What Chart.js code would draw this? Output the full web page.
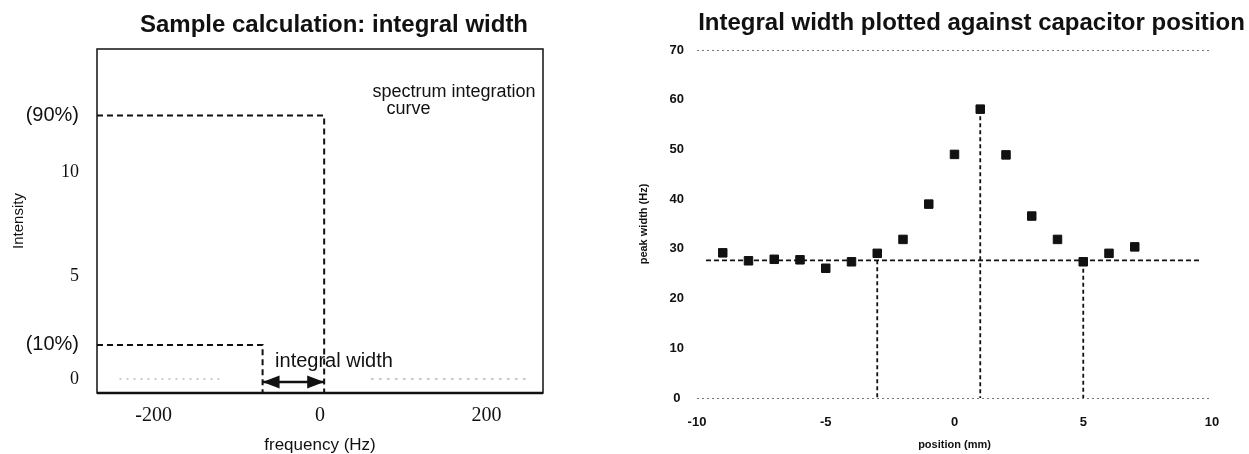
<!DOCTYPE html>
<html>
<head>
<meta charset="utf-8">
<script src="https://cdn.jsdelivr.net/npm/chart.js@4.4.1/dist/chart.umd.min.js"></script>
<style>
  html, body { margin: 0; padding: 0; background: #fff; overflow: hidden; width: 1249px; height: 454px; }
  .panel { position: absolute; top: 0; height: 454px; }
  #leftPanel  { left: 0;     width: 668px; }
  #rightPanel { left: 600px; width: 743px; }
</style>
</head>
<body>
<div class="panel" id="leftPanel"><canvas id="leftChart"></canvas></div>
<div class="panel" id="rightPanel"><canvas id="rightChart"></canvas></div>
<script>
/* ---- left panel: sample calculation ---- */
const freqTicks       = [-200, 0, 200];
const intensityTicks  = [0, 1.65, 5, 10, 12.77];
const intensityLabels = ['0', '(10%)', '5', '10', '(90%)'];
const freqRange       = [-268, 268];
const intensityRange  = [-0.68, 16];
const level10 = 1.65, level90 = 12.77;      // intensity levels
const freq10  = -69,  freq90  = 5;          // where the curve crosses them
const baselineLeftX  = [-241, -117];
const baselineRightX = [61, 253];
const arrowY = -0.15;
const notes = [
  { text: 'spectrum integration', x: 63,  y: 13.67, size: 18 },
  { text: 'curve',                x: 80,  y: 12.85, size: 18 },
  { text: 'integral width',       x: -54, y: 0.59,  size: 20 }
];

/* ---- right panel: width vs position ---- */
const positions  = [-9, -8, -7, -6, -5, -4, -3, -2, -1, 0, 1, 2, 3, 4, 5, 6, 7];
const peakWidths = [29.2, 27.6, 27.9, 27.8, 26.1, 27.4, 29.1, 31.9, 39.0, 49.0, 58.1, 48.9, 36.6, 31.9, 27.4, 29.1, 30.4];
const positionTicks = [-10, -5, 0, 5, 10];
const widthTicks    = [0, 10, 20, 30, 40, 50, 60, 70];
const baseWidth     = 27.7;
const baseSpan      = [-9.65, 9.5];
const cutoffX       = [-3, 1, 5];
const cutoffY       = [29.1, 58.1, 27.4];

const SANS  = '"Liberation Sans", Arial, Helvetica, sans-serif';
const SERIF = '"Liberation Serif", "Times New Roman", serif';

function pts(xs, ys) { return xs.map((x, i) => ({ x, y: ys[i] })); }

function dashed(data, extra) {
    return Object.assign({
        data, borderColor: '#111', borderWidth: 2, borderDash: [6, 4],
        pointRadius: 0, fill: false, tension: 0
    }, extra || {});
}

// empty right-hand axis that only reserves room, so the title centres like the original
function spacer(w) {
    return {
        type: 'linear', position: 'right', display: true,
        grid: { display: false }, border: { display: false }, ticks: { display: false },
        afterFit: s => { s.width = w; }
    };
}

/* frame, notes and arrow heads on the left panel */
const leftDecor = {
    id: 'leftDecor',
    afterDatasetsDraw(chart) {
        const { ctx, chartArea: a, scales: { x, y } } = chart;
        ctx.save();
        ctx.strokeStyle = '#111';
        ctx.lineWidth = 1.5;
        ctx.strokeRect(a.left, a.top, a.width, a.height);
        ctx.lineWidth = 2.5;
        ctx.beginPath(); ctx.moveTo(a.left, a.bottom); ctx.lineTo(a.right, a.bottom); ctx.stroke();

        ctx.fillStyle = '#111';
        ctx.textBaseline = 'alphabetic';
        notes.forEach(n => {
            ctx.font = n.size + 'px ' + SANS;
            ctx.fillText(n.text, x.getPixelForValue(n.x), y.getPixelForValue(n.y));
        });

        const meta = chart.getDatasetMeta(chart.data.datasets.length - 1);
        const p0 = meta.data[0], p1 = meta.data[meta.data.length - 1];
        [[p0, 1], [p1, -1]].forEach(([p, dir]) => {
            ctx.beginPath();
            ctx.moveTo(p.x, p.y);
            ctx.lineTo(p.x + dir * 17, p.y - 6.5);
            ctx.lineTo(p.x + dir * 17, p.y + 6.5);
            ctx.closePath();
            ctx.fill();
        });
        ctx.restore();
    }
};

new Chart(document.getElementById('leftChart'), {
    type: 'line',
    data: {
        datasets: [
            dashed(pts([freqRange[0], freq90, freq90], [level90, level90, intensityRange[0]])),
            dashed(pts([freqRange[0], freq10, freq10], [level10, level10, intensityRange[0]])),
            dashed(pts(baselineLeftX, [0, 0]),  { borderColor: '#9a9a9a', borderWidth: 1, borderDash: [2, 5] }),
            dashed(pts(baselineRightX, [0, 0]), { borderColor: '#9a9a9a', borderWidth: 1, borderDash: [3, 5] }),
            dashed(pts([freq10, freq90], [arrowY, arrowY]), { borderDash: [], borderWidth: 2.5 })
        ]
    },
    options: {
        responsive: true, maintainAspectRatio: false, animation: false,
        layout: { padding: 0 },
        plugins: {
            legend: { display: false }, tooltip: { enabled: false },
            title: {
                display: true, text: 'Sample calculation: integral width', color: '#111',
                font: { family: SANS, size: 24, weight: 'bold', lineHeight: 1.2 },
                padding: { top: 10.6, bottom: 9.6 }
            }
        },
        scales: {
            x: {
                type: 'linear', min: freqRange[0], max: freqRange[1],
                afterBuildTicks: s => { s.ticks = freqTicks.map(v => ({ value: v })); },
                afterFit: s => { s.height = 61; },
                grid: { display: false }, border: { display: false },
                ticks: { color: '#111', font: { family: SERIF, size: 20 }, padding: 3 },
                title: { display: true, text: 'frequency (Hz)', color: '#111',
                         font: { family: SANS, size: 17, lineHeight: 1 }, padding: { top: 0, bottom: 0 } }
            },
            y: {
                type: 'linear', min: intensityRange[0], max: intensityRange[1],
                afterBuildTicks: s => { s.ticks = intensityTicks.map(v => ({ value: v })); },
                afterFit: s => { s.width = 97; },
                grid: { display: false }, border: { display: false },
                ticks: {
                    color: '#111', padding: 10,
                    callback: v => intensityLabels[intensityTicks.indexOf(v)],
                    font: c => (c.tick && (c.tick.value === level10 || c.tick.value === level90))
                        ? { family: SANS, size: 20 } : { family: SERIF, size: 18 }
                },
                title: { display: true, text: 'Intensity', color: '#111',
                         font: { family: SANS, size: 15 }, padding: { top: 10, bottom: 0 } }
            },
            pad: spacer(125)
        }
    },
    plugins: [leftDecor]
});

new Chart(document.getElementById('rightChart'), {
    type: 'scatter',
    data: {
        datasets: [
            { data: pts(positions, peakWidths), backgroundColor: '#111', borderColor: '#111',
              pointStyle: 'rect', pointRadius: 6, showLine: false },
            dashed(pts(baseSpan, [baseWidth, baseWidth]), { showLine: true, borderWidth: 1.8, borderDash: [5, 3] }),
            ...cutoffX.map((cx, i) => dashed(pts([cx, cx], [cutoffY[i], 0]),
                { showLine: true, borderWidth: 1.8, borderDash: [4, 3] }))
        ]
    },
    options: {
        responsive: true, maintainAspectRatio: false, animation: false,
        layout: { padding: 0 },
        plugins: {
            legend: { display: false }, tooltip: { enabled: false },
            title: {
                display: true, text: 'Integral width plotted against capacitor position', color: '#111',
                font: { family: SANS, size: 24, weight: 'bold', lineHeight: 1.2 },
                padding: { top: 8.6, bottom: 12.6 }
            }
        },
        scales: {
            x: {
                type: 'linear', min: -10, max: 10,
                afterBuildTicks: s => { s.ticks = positionTicks.map(v => ({ value: v })); },
                afterFit: s => { s.height = 56; },
                grid: { display: false }, border: { display: false },
                ticks: { color: '#111', font: { family: SANS, size: 13, weight: 'bold' }, padding: 9 },
                title: { display: true, text: 'position (mm)', color: '#111',
                         font: { family: SANS, size: 11, weight: 'bold' }, padding: { top: 0, bottom: 2 } }
            },
            y: {
                type: 'linear', min: 0, max: 70,
                afterBuildTicks: s => { s.ticks = widthTicks.map(v => ({ value: v })); },
                afterFit: s => { s.width = 97; },
                grid: {
                    drawTicks: false, lineWidth: 1,
                    color: c => (c.tick && (c.tick.value === 0 || c.tick.value === 70)) ? '#777' : 'rgba(0,0,0,0)'
                },
                border: { display: false, dash: [2, 3] },
                ticks: { color: '#111', crossAlign: 'center', padding: 13,
                         font: { family: SANS, size: 13, weight: 'bold' } },
                title: { display: true, text: 'peak width (Hz)', color: '#111',
                         font: { family: SANS, size: 11, weight: 'bold' }, padding: { top: 37, bottom: 0 } }
            },
            pad: spacer(131)
        }
    }
});
</script>
</body>
</html>
